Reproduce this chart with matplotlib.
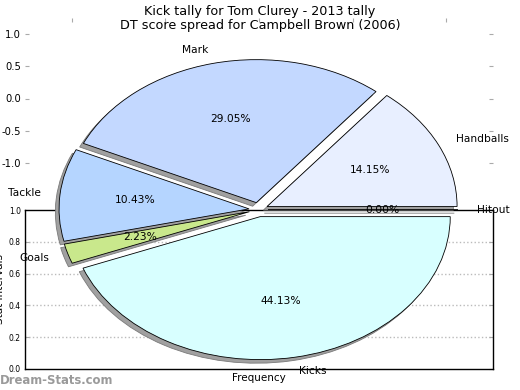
import matplotlib
matplotlib.use("Agg")
import matplotlib.pyplot as plt

# ---- data ----
labels = ["Handballs", "Mark", "Tackle", "Goals", "Kicks", "Hitout"]
values = [14.15, 29.05, 10.43, 2.23, 44.13, 0.0]
colors = ["#e8efff", "#c3d8ff", "#b5d5ff", "#c9e88c", "#d8ffff", "#ffd8d8"]
explode = [0.05, 0.05, 0.05, 0.05, 0.05, 0.05]
title = "Kick tally for Tom Clurey - 2013 tally\nDT score spread for Campbell Brown (2006)"
bg_yticks = [0.0, 0.2, 0.4, 0.6, 0.8, 1.0]
pie_ticks = [-1.0, -0.5, 0.0, 0.5, 1.0]

W, H = 520, 390
fig = plt.figure(figsize=(5.2, 3.9), dpi=100)
fig.patch.set_facecolor("white")

def fr(x0, y0_top, x1, y1_top):
    # pixel box (top-left origin) -> figure fraction rect
    return [x0 / W, (H - y1_top) / H, (x1 - x0) / W, (y1_top - y0_top) / H]

# ---- background axes ----
bg = fig.add_axes(fr(25, 210, 493, 369), zorder=0)
bg.set_ylim(0, 1)
bg.set_xlim(0, 1)
bg.set_yticks(bg_yticks)
bg.set_yticklabels([f"{v:.1f}" for v in bg_yticks], fontsize=5.5)
bg.set_xticks([])
bg.tick_params(axis="y", direction="in", length=3, color="#aaaaaa",
               left=True, right=True, pad=3)
for y in bg_yticks[1:-1]:
    bg.axhline(y, color="#bbbbbb", linestyle=":", linewidth=1.0, zorder=0)
bg.set_xlabel("Frequency", fontsize=7.5, labelpad=3)
bg.set_ylabel("Stat Intervals", fontsize=7.5, labelpad=3)
for s in bg.spines.values():
    s.set_linewidth(1.0)

# ---- axes carrying the -1..1 ticks ----
tk = fig.add_axes(fr(25, 18, 493, 179), zorder=1)
tk.patch.set_alpha(0)
tk.set_xlim(-1.25, 1.25)
tk.set_ylim(-1.25, 1.25)
tk.set_yticks(pie_ticks)
tk.set_yticklabels([f"{v:.1f}" for v in pie_ticks], fontsize=7.2)
tk.set_xticks(pie_ticks)
tk.set_xticklabels([])
tk.tick_params(axis="y", direction="in", length=3, color="#aaaaaa",
               left=True, right=True, pad=3)
tk.tick_params(axis="x", direction="in", length=3, color="#aaaaaa",
               top=True, bottom=False, labelbottom=False)
for s in tk.spines.values():
    s.set_visible(False)

# ---- pie axes ----
cx, cy, rx, ry = 258.5, 209.6, 190.0, 143.0
pa = fig.add_axes(fr(cx - 1.25 * rx, cy - 1.25 * ry, cx + 1.25 * rx, cy + 1.25 * ry), zorder=2)
pa.patch.set_alpha(0)
wedges, texts, autotexts = pa.pie(
    values, explode=explode, labels=labels, colors=colors,
    autopct="%1.2f%%",
    shadow={"ox": -0.014, "oy": -0.018, "facecolor": "#a0a0a0",
            "edgecolor": "#7a7a7a", "linewidth": 0.6, "alpha": 1.0},
    startangle=0, counterclock=True,
    wedgeprops={"edgecolor": "black", "linewidth": 0.6},
    textprops={"fontsize": 7.7},
)
pa.set_aspect("auto")
pa.set_xlim(-1.25, 1.25)
pa.set_ylim(-1.25, 1.25)
pa.axis("off")

fig.suptitle(title, fontsize=9.2, y=0.988, va="top", linespacing=1.15)
fig.text(0.0, 0.008, "Dream-Stats.com", fontsize=8.4, color="#9a9a9a",
         fontweight="bold", ha="left", va="bottom")

fig.savefig("out.png", dpi=100)
